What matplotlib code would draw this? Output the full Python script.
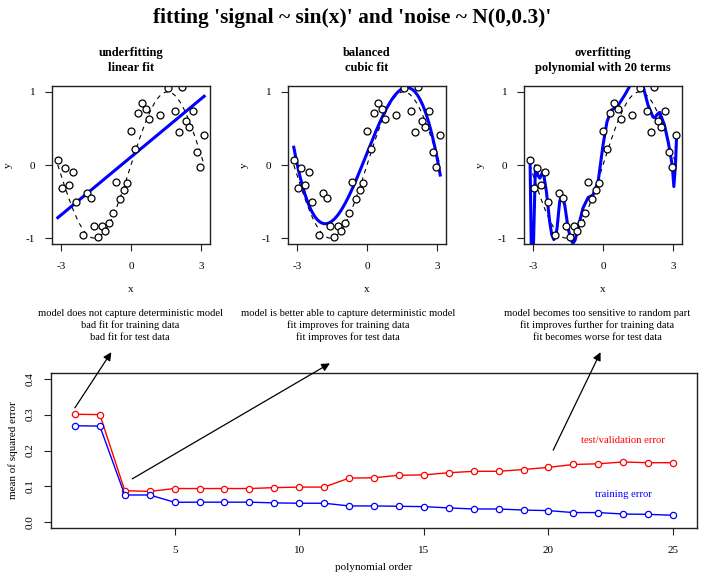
import numpy as np
import matplotlib.pyplot as plt
from numpy.polynomial import Polynomial

plt.rcParams['font.family'] = ['Liberation Serif', 'DejaVu Serif']
plt.rcParams['axes.unicode_minus'] = False

# training sample
x_obs = [-3.14, -2.98, -2.83, -2.67, -2.51, -2.36, -2.04, -1.88, -1.73, -1.57,
         -1.41, -1.26, -1.10, -0.94, -0.79, -0.63, -0.47, -0.31, -0.16, 0.00,
         0.16, 0.31, 0.47, 0.63, 0.79, 1.26, 1.57, 1.88, 2.04, 2.20,
         2.36, 2.51, 2.67, 2.83, 2.98, 3.14]
y_obs = [0.068, -0.32, -0.04, -0.27, -0.095, -0.50, -0.955, -0.38, -0.455, -0.83,
         -0.98, -0.83, -0.90, -0.795, -0.655, -0.236, -0.47, -0.336, -0.24, 0.464,
         0.214, 0.705, 0.845, 0.768, 0.627, 0.677, 1.05, 0.732, 0.45, 1.07,
         0.595, 0.523, 0.736, 0.177, -0.027, 0.405]

# fitted curves
lin_x = [-3.14, 3.14]
lin_y = [-0.72, 0.94]
cub_x = [-3.14, -2.52, -1.81, -1.16, 0.00, 0.85, 1.70, 2.28, 2.71, 3.14]
cub_y = [0.23, -0.50, -0.82, -0.65, 0.16, 0.80, 1.06, 0.87, 0.52, -0.13]
ovr_x = [-3.13, -3.07, -3.00, -2.90, -2.80, -2.71, -2.57, -2.43, -2.29, -2.20,
         -2.11, -2.03, -1.97, -1.86, -1.79, -1.72, -1.64, -1.50, -1.38, -1.29,
         -1.20, -1.07, -0.86, -0.64, -0.43, -0.21, 0.00, 0.17, 0.36, 0.64,
         0.93, 1.17, 1.45, 1.71, 1.93, 2.14, 2.22, 2.32, 2.43, 2.64,
         2.81, 2.97, 3.04, 3.11, 3.16]
ovr_y = [0.06, -1.30, -1.30, -0.01, -0.14, -0.18, -0.08, -0.36, -0.77, -0.95,
         -1.02, -0.97, -0.86, -0.50, -0.43, -0.46, -0.55, -0.86, -1.02, -1.07,
         -1.03, -0.86, -0.59, -0.445, -0.41, -0.23, 0.27, 0.59, 0.75, 0.81,
         0.955, 1.09, 1.15, 1.09, 0.82, 0.66, 0.645, 0.69, 0.72, 0.545,
         0.295, 0.0, -0.295, 0.0, 0.41]

# error curves
order = list(range(1, 26))
test_err = [0.301, 0.300, 0.088, 0.086, 0.094, 0.094, 0.094, 0.094, 0.0965, 0.098,
            0.098, 0.123, 0.124, 0.131, 0.132, 0.138, 0.142, 0.142, 0.147, 0.153,
            0.161, 0.163, 0.168, 0.166, 0.166]
train_err = [0.269, 0.268, 0.076, 0.076, 0.0557, 0.056, 0.056, 0.056, 0.054, 0.053,
             0.053, 0.0455, 0.0455, 0.0445, 0.0436, 0.040, 0.037, 0.037, 0.034, 0.0325,
             0.027, 0.027, 0.023, 0.022, 0.0195]

xs = np.linspace(-np.pi, np.pi, 400)
cubic = Polynomial.fit(cub_x, cub_y, 3)
panels = [("underfitting\nlinear fit", lin_x, lin_y),
          ("balanced\ncubic fit", xs, cubic(xs)),
          ("overfitting\npolynomial with 20 terms", ovr_x, ovr_y)]

W, H = 709, 585
fig = plt.figure(figsize=(W / 100, H / 100), dpi=100)


def rect(l, t, r, b):
    return [l / W, 1 - b / H, (r - l) / W, (b - t) / H]


def fx(x):
    return x / W


def fy(y):
    return 1 - y / H


def style(ax):
    for s in ax.spines.values():
        s.set_linewidth(1.0)
        s.set_color('#222222')
    ax.tick_params(direction='out', length=5, width=0.8, labelsize=8,
                   color='#222222')


fig.text(fx(352), fy(18), "fitting 'signal ~ sin(x)' and 'noise ~ N(0,0.3)'",
         ha='center', va='center', fontsize=15.4, fontweight='bold')

lefts = [52, 288, 524]
for (title, fit_x, fit_y), l in zip(panels, lefts):
    ax = fig.add_axes(rect(l, 86, l + 158, 244))
    style(ax)
    ax.plot(xs, np.sin(xs), color='black', lw=0.8, ls=(0, (4, 4)))
    ax.plot(fit_x, fit_y, color='#0000ff', lw=2.2, solid_joinstyle='round')
    ax.plot(x_obs, y_obs, 'o', ms=5, mfc='white', mec='black', mew=0.9)
    ax.set_xlim(-3.39, 3.39)
    ax.set_ylim(-1.08, 1.08)
    ax.set_xticks([-3, 0, 3])
    ax.set_yticks([-1, 0, 1])
    ax.tick_params(axis='x', pad=8)
    ax.tick_params(axis='y', pad=7)
    fig.text(fx(l + 79), fy(60.5), title, ha='center', va='center',
             fontsize=9, fontweight='bold', linespacing=1.32)
    fig.text(fx(l + 79), fy(290), 'x', ha='center', va='center', fontsize=8)
    fig.text(fx(l - 44), fy(165), 'y', ha='center', va='center', fontsize=8,
             rotation=90)

notes = [(130, "model does not capture deterministic model\nbad fit for training data\nbad fit for test data"),
         (348, "model is better able to capture deterministic model\nfit improves for training data\nfit improves for test data"),
         (597, "model becomes too sensitive to random part\nfit improves further for training data\nfit becomes worse for test data")]
for cx, txt in notes:
    fig.text(fx(cx), fy(325.5), txt, ha='center', va='center', fontsize=7.6,
             linespacing=1.35)

ax = fig.add_axes(rect(51, 373, 697, 528))
style(ax)
ax.plot(order, test_err, '-o', color='red', lw=1, ms=4.5, mfc='white', mec='red', mew=0.9)
ax.plot(order, train_err, '-o', color='blue', lw=1, ms=4.5, mfc='white', mec='blue', mew=0.9)
ax.set_xlim(0.04, 25.96)
ax.set_ylim(-0.016, 0.416)
ax.set_xticks([5, 10, 15, 20, 25])
ax.set_yticks([0.0, 0.1, 0.2, 0.3, 0.4])
ax.set_yticklabels(['0.0', '0.1', '0.2', '0.3', '0.4'], rotation=90, va='center')
ax.tick_params(axis='x', pad=8)
ax.tick_params(axis='y', pad=7)
ax.text(23, 0.227, 'test/validation error', color='red', ha='center', va='center', fontsize=7.7)
ax.text(23, 0.077, 'training error', color='blue', ha='center', va='center', fontsize=7.7)
fig.text(fx(374), fy(567), 'polynomial order', ha='center', va='center', fontsize=8)
fig.text(fx(13), fy(450), 'mean of squared error', ha='center', va='center',
         fontsize=8, rotation=90)

arrows = [((1.0, 0.319), (2.46, 0.474)),
          ((3.30, 0.121), (11.23, 0.443)),
          ((20.19, 0.201), (22.09, 0.474))]
for start, end in arrows:
    ax.annotate('', xy=end, xytext=start, annotation_clip=False,
                arrowprops=dict(arrowstyle='-|>', color='black', lw=0.9,
                                mutation_scale=12, shrinkA=0, shrinkB=0))

fig.savefig('out.png', dpi=100)
